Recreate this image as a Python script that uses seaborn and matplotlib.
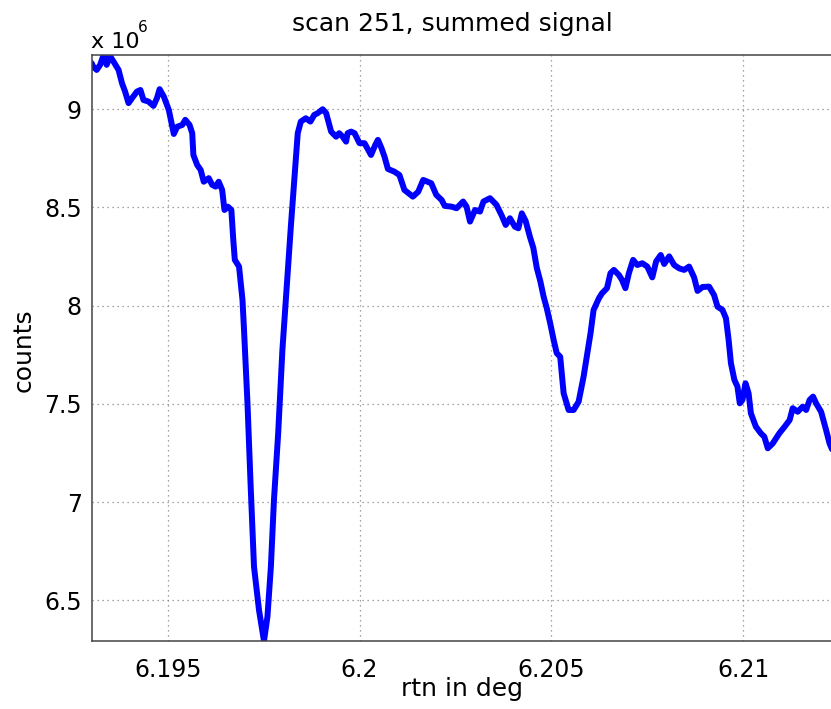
import matplotlib
matplotlib.use("Agg")
import matplotlib.pyplot as plt
import seaborn as sns
import pandas as pd

# rotation angle (deg) and summed detector counts (units of 1e6)
rtn_deg = [
    6.19302, 6.19306, 6.19315, 6.19324, 6.19333, 6.19341, 6.19350, 6.19359, 6.19372, 6.19381,
    6.19389, 6.19398, 6.19407, 6.19420, 6.19429, 6.19437, 6.19450, 6.19463, 6.19472, 6.19479,
    6.19490, 6.19503, 6.19516, 6.19525, 6.19538, 6.19546, 6.19557, 6.19564, 6.19567, 6.19577,
    6.19586, 6.19594, 6.19607, 6.19616, 6.19625, 6.19633, 6.19642, 6.19648, 6.19657, 6.19666,
    6.19671, 6.19675, 6.19686, 6.19695, 6.19699, 6.19708, 6.19716, 6.19725, 6.19738, 6.19751,
    6.19760, 6.19769, 6.19777, 6.19788, 6.19799, 6.19812, 6.19821, 6.19830, 6.19839, 6.19847,
    6.19860, 6.19872, 6.19882, 6.19891, 6.19904, 6.19913, 6.19926, 6.19939, 6.19947, 6.19956,
    6.19965, 6.19969, 6.19978, 6.19987, 6.20000, 6.20013, 6.20030, 6.20041, 6.20048, 6.20057,
    6.20065, 6.20074, 6.20091, 6.20104, 6.20117, 6.20139, 6.20153, 6.20166, 6.20187, 6.20200,
    6.20214, 6.20222, 6.20240, 6.20253, 6.20270, 6.20279, 6.20288, 6.20301, 6.20314, 6.20323,
    6.20340, 6.20357, 6.20371, 6.20381, 6.20392, 6.20405, 6.20414, 6.20423, 6.20433, 6.20444,
    6.20453, 6.20462, 6.20471, 6.20480, 6.20488, 6.20497, 6.20506, 6.20514, 6.20523, 6.20532,
    6.20545, 6.20558, 6.20571, 6.20584, 6.20593, 6.20602, 6.20610, 6.20624, 6.20632, 6.20645,
    6.20654, 6.20663, 6.20676, 6.20684, 6.20693, 6.20702, 6.20713, 6.20724, 6.20737, 6.20750,
    6.20763, 6.20773, 6.20785, 6.20794, 6.20807, 6.20820, 6.20833, 6.20846, 6.20859, 6.20872,
    6.20881, 6.20894, 6.20911, 6.20924, 6.20933, 6.20946, 6.20955, 6.20962, 6.20968, 6.20977,
    6.20985, 6.20991, 6.20998, 6.21006, 6.21014, 6.21020, 6.21033, 6.21046, 6.21055, 6.21064,
    6.21077, 6.21094, 6.21108, 6.21121, 6.21129, 6.21142, 6.21155, 6.21164, 6.21173, 6.21182,
    6.21190, 6.21203, 6.21216, 6.21225, 6.21234,
]
counts_1e6 = [
    9.234, 9.217, 9.200, 9.226, 9.276, 9.226, 9.270, 9.242, 9.200, 9.132,
    9.090, 9.031, 9.056, 9.090, 9.098, 9.047, 9.039, 9.017, 9.056, 9.102,
    9.064, 8.996, 8.874, 8.911, 8.920, 8.946, 8.920, 8.878, 8.767, 8.716,
    8.691, 8.631, 8.649, 8.615, 8.606, 8.631, 8.589, 8.487, 8.504, 8.487,
    8.335, 8.233, 8.199, 8.029, 7.876, 7.503, 7.096, 6.671, 6.451, 6.293,
    6.416, 6.671, 7.011, 7.350, 7.774, 8.148, 8.402, 8.640, 8.878, 8.937,
    8.954, 8.937, 8.971, 8.980, 9.000, 8.980, 8.886, 8.860, 8.878, 8.860,
    8.835, 8.878, 8.886, 8.878, 8.827, 8.827, 8.767, 8.818, 8.844, 8.803,
    8.759, 8.696, 8.682, 8.665, 8.589, 8.555, 8.580, 8.640, 8.623, 8.564,
    8.538, 8.508, 8.504, 8.496, 8.530, 8.504, 8.428, 8.487, 8.479, 8.530,
    8.547, 8.513, 8.457, 8.411, 8.445, 8.402, 8.394, 8.470, 8.431, 8.351,
    8.294, 8.192, 8.126, 8.044, 7.987, 7.910, 7.825, 7.758, 7.740, 7.554,
    7.469, 7.469, 7.511, 7.639, 7.749, 7.859, 7.978, 8.038, 8.063, 8.089,
    8.165, 8.182, 8.156, 8.131, 8.089, 8.165, 8.233, 8.207, 8.216, 8.199,
    8.144, 8.225, 8.258, 8.212, 8.251, 8.207, 8.190, 8.182, 8.199, 8.144,
    8.075, 8.095, 8.097, 8.054, 7.995, 7.978, 7.936, 7.825, 7.707, 7.622,
    7.588, 7.503, 7.520, 7.605, 7.554, 7.452, 7.384, 7.350, 7.333, 7.274,
    7.299, 7.350, 7.384, 7.418, 7.478, 7.460, 7.486, 7.469, 7.520, 7.537,
    7.503, 7.460, 7.367, 7.299, 7.257,
]
x_ticks = [6.195, 6.2, 6.205, 6.21]
x_tick_labels = ["6.195", "6.2", "6.205", "6.21"]
y_ticks = [6.5, 7, 7.5, 8, 8.5, 9]
y_tick_labels = ["6.5", "7", "7.5", "8", "8.5", "9"]

sns.set_theme(style="white")
plt.rcParams["font.family"] = ["DejaVu Sans"]
plt.rcParams["text.color"] = "black"

W, H = 831, 709
fig = plt.figure(figsize=(W / 100, H / 100), dpi=100)
left, right, top, bottom = 91.7, 833, 55, 641
ax = fig.add_axes([left / W, 1 - bottom / H, (right - left) / W, (bottom - top) / H])

df = pd.DataFrame({"rtn": rtn_deg, "counts": counts_1e6})
sns.lineplot(data=df, x="rtn", y="counts", ax=ax, color="#0000ff",
             linewidth=4.3, sort=False, estimator=None)

ax.set_xlim(min(rtn_deg), max(rtn_deg))
ax.set_ylim(min(counts_1e6), max(counts_1e6))
ax.set_xticks(x_ticks)
ax.set_xticklabels(x_tick_labels)
ax.set_yticks(y_ticks)
ax.set_yticklabels(y_tick_labels)
ax.set_xlabel("")
ax.set_ylabel("")

ax.grid(True, linestyle=(0, (1, 3)), color="#888888", linewidth=0.9)
ax.set_axisbelow(True)
ax.tick_params(axis="both", direction="in", length=5, width=1, color="#555555",
               labelsize=17, labelcolor="black", top=False, right=False)
ax.tick_params(axis="x", pad=12)
ax.tick_params(axis="y", pad=7)
for side in ["left", "top", "bottom"]:
    ax.spines[side].set_visible(True)
    ax.spines[side].set_color("#444444")
    ax.spines[side].set_linewidth(1.1)
ax.spines["right"].set_visible(False)

fig.text(452 / W, 1 - 31 / H, "scan 251, summed signal", ha="center",
         va="baseline", fontsize=18)
fig.text(462 / W, 1 - 696 / H, "rtn in deg", ha="center", va="baseline", fontsize=18)
fig.text(24 / W, 1 - 350 / H, "counts", ha="center", va="center",
         rotation=90, fontsize=18)
fig.text(91 / W, 1 - 48 / H, "x 10", ha="left", va="baseline", fontsize=16)
fig.text(138 / W, 1 - 32 / H, "6", ha="left", va="baseline", fontsize=11)

fig.savefig("out.png", dpi=100, facecolor="white")
